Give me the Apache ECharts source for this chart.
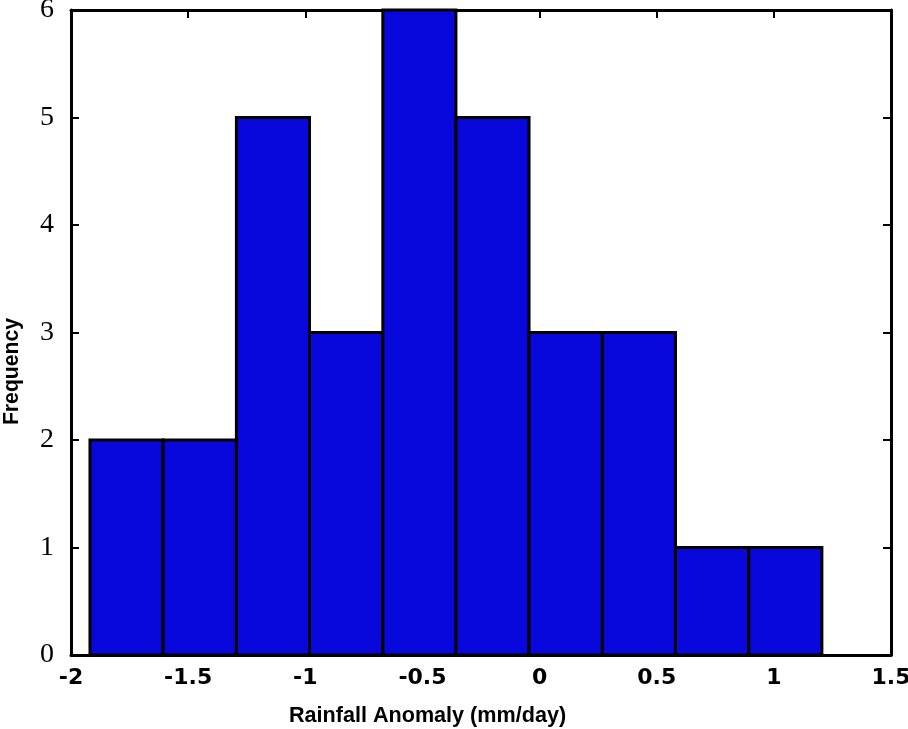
<!DOCTYPE html>
<html><head><meta charset="utf-8">
<script src="https://cdn.jsdelivr.net/npm/echarts@6/dist/echarts.min.js"></script>
<style>html,body{margin:0;padding:0;background:#fff}#c{width:908px;height:729px}</style>
</head><body><div id="c"></div>
<script>
var binEdges = [-1.919, -1.607, -1.294, -0.982, -0.669, -0.357, -0.045, 0.268, 0.580, 0.893, 1.205];
var frequencies = [2, 2, 5, 3, 6, 5, 3, 3, 1, 1];
var xTicks = [-2, -1.5, -1, -0.5, 0, 0.5, 1, 1.5];
var yTicks = [0, 1, 2, 3, 4, 5, 6];

var data = frequencies.map(function (f, i) { return [binEdges[i], binEdges[i + 1], f]; });
var chart = echarts.init(document.getElementById('c'));
var frameLine = { show: true, onZero: false, lineStyle: { color: '#000', width: 3 } };
var tickIn = { show: true, inside: true, length: 8, lineStyle: { color: '#000', width: 2 } };
chart.setOption({
  animation: false,
  grid: { left: 71, right: 17, top: 10, bottom: 74, outerBoundsMode: 'none', containLabel: false },
  xAxis: [{
    type: 'value', min: -2, max: 1.5, interval: 0.5,
    name: 'Rainfall Anomaly (mm/day)', nameLocation: 'middle', nameGap: 50,
    nameTextStyle: { fontFamily: 'Liberation Sans', fontWeight: 'bold', fontSize: 21.6, color: '#000', padding: [0, 107, 0, 0] },
    axisLine: frameLine, axisTick: tickIn, splitLine: { show: false },
    axisLabel: { fontFamily: 'DejaVu Sans', fontWeight: 'bold', fontSize: 22, color: '#000', margin: 12,
      formatter: function (v) { return String(v); } }
  }, {
    type: 'value', position: 'top', min: -2, max: 1.5, interval: 0.5,
    axisLine: frameLine, axisTick: tickIn, axisLabel: { show: false }, splitLine: { show: false }
  }],
  yAxis: [{
    type: 'value', min: 0, max: 6, interval: 1,
    name: 'Frequency', nameLocation: 'middle', nameGap: 48,
    nameTextStyle: { fontFamily: 'Liberation Sans', fontWeight: 'bold', fontSize: 21.2, color: '#000', padding: [0, 78, 0, 0] },
    axisLine: frameLine, axisTick: tickIn, splitLine: { show: false },
    axisLabel: { fontFamily: 'Liberation Serif', fontSize: 28, color: '#000', margin: 17 }
  }, {
    type: 'value', position: 'right', min: 0, max: 6, interval: 1,
    axisLine: frameLine, axisTick: tickIn, axisLabel: { show: false }, splitLine: { show: false }
  }],
  series: [{
    type: 'custom',
    data: data,
    encode: { x: [0, 1], y: 2 },
    renderItem: function (params, api) {
      var p0 = api.coord([api.value(0), 0]);
      var p1 = api.coord([api.value(1), api.value(2)]);
      return {
        type: 'rect',
        shape: { x: p0[0], y: p1[1], width: p1[0] - p0[0], height: p0[1] - p1[1] },
        style: { fill: '#0808dc', stroke: '#000', lineWidth: 3 }
      };
    }
  }]
});
</script></body></html>
